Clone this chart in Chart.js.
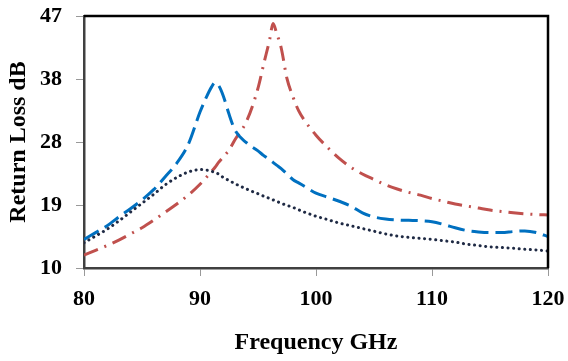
<!DOCTYPE html>
<html>
<head>
<meta charset="utf-8">
<script src="https://cdn.jsdelivr.net/npm/chart.js@4.4.0/dist/chart.umd.min.js"></script>
<style>
  body { margin: 0; background: #fff; }
</style>
</head>
<body>
<canvas id="myChart" width="568" height="361"></canvas>
<script>
// frequency points (GHz), shared by all three curves
const freq = [80, 81, 82, 83, 84, 85, 86, 87, 88, 89, 90, 90.5, 91, 91.3, 91.6, 92, 92.5, 93, 94, 95,
  95.5, 96, 96.3, 96.6, 97, 97.5, 98, 98.5, 99, 100, 101, 102, 103, 104, 105, 106, 107, 108, 109, 110,
  111, 112, 113, 114, 115, 116, 117, 118, 119, 120];

// dotted dark curve
const dotted = [13.7, 14.7, 15.7, 16.9, 18.2, 19.5, 20.8, 22.2, 23.3, 24.1, 24.45, 24.4, 24.2, 24.0, 23.8, 23.3, 22.85, 22.4, 21.6, 20.9,
  20.55, 20.2, 20.0, 19.8, 19.5, 19.2, 18.9, 18.55, 18.2, 17.6, 17.1, 16.6, 16.2, 15.8, 15.4, 15.0, 14.7, 14.5, 14.35, 14.2,
  14.0, 13.8, 13.5, 13.3, 13.1, 13.0, 12.9, 12.75, 12.65, 12.5];

// blue dashed curve
const dashed = [14.2, 15.2, 16.2, 17.5, 18.7, 20.0, 21.5, 23.4, 25.4, 28.2, 32.9, 34.9, 36.6, 37.2, 36.8, 35.3, 32.6, 30.3, 28.4, 27.2,
  26.5, 25.9, 25.5, 25.1, 24.6, 23.8, 23.0, 22.5, 22.0, 21.0, 20.4, 19.8, 19.1, 18.1, 17.5, 17.2, 17.05, 17.0, 16.95, 16.8,
  16.4, 15.9, 15.5, 15.3, 15.2, 15.2, 15.35, 15.45, 15.2, 14.6];

// red dash-dot curve
const dashDot = [11.9, 12.6, 13.3, 14.1, 15.0, 15.9, 17.0, 18.2, 19.4, 20.7, 22.3, 23.2, 24.2, 24.8, 25.5, 26.3, 27.3, 28.8, 31.5, 36.4,
  40.0, 43.5, 45.9, 44.5, 42.3, 37.8, 35.2, 33.1, 31.7, 29.5, 27.7, 26.1, 24.8, 23.8, 23.0, 22.2, 21.6, 21.1, 20.7, 20.2,
  19.8, 19.4, 19.1, 18.8, 18.5, 18.3, 18.1, 17.95, 17.85, 17.8];

const yTickLabels = ['10', '19', '28', '38', '47'];

function pts(vals) {
  return freq.map((f, i) => ({ x: f, y: vals[i] }));
}

const font = { family: "'Liberation Serif', 'Times New Roman', serif", size: 22, weight: 'bold' };
const titleFont = { family: "'Liberation Serif', 'Times New Roman', serif", size: 24, weight: 'bold' };

// top and right edge of the frame
const frame = {
  id: 'frame',
  afterDraw(chart) {
    const { ctx, chartArea: a } = chart;
    ctx.save();
    ctx.strokeStyle = '#000';
    ctx.lineWidth = 2.5;
    ctx.beginPath();
    ctx.moveTo(a.left, a.top);
    ctx.lineTo(a.right, a.top);
    ctx.lineTo(a.right, a.bottom);
    ctx.stroke();
    ctx.restore();
  }
};

new Chart(document.getElementById('myChart'), {
  type: 'line',
  data: {
    datasets: [
      {
        data: pts(dotted),
        borderColor: '#1f2a44',
        borderWidth: 3,
        borderDash: [0.1, 5.5],
        borderCapStyle: 'round',
        pointRadius: 0,
        cubicInterpolationMode: 'monotone'
      },
      {
        data: pts(dashed),
        borderColor: '#0070c0',
        borderWidth: 3,
        borderDash: [17, 7],
        pointRadius: 0,
        cubicInterpolationMode: 'monotone'
      },
      {
        data: pts(dashDot),
        borderColor: '#c0504d',
        borderWidth: 3,
        borderDash: [15, 7, 2, 7],
        pointRadius: 0,
        cubicInterpolationMode: 'monotone'
      }
    ]
  },
  options: {
    responsive: false,
    animation: false,
    devicePixelRatio: 1,
    layout: { padding: { top: 16, right: 20, left: 0, bottom: 0 } },
    plugins: { legend: { display: false }, tooltip: { enabled: false } },
    scales: {
      x: {
        type: 'linear',
        min: 80,
        max: 120,
        afterFit(scale) {
          scale.height = 93;
          scale.paddingLeft = 0;
          scale.paddingRight = 0;
        },
        border: { color: '#404040', width: 2.5 },
        grid: { drawOnChartArea: false, drawTicks: true, tickLength: 8, color: '#999' },
        ticks: { stepSize: 10, color: '#000', font: font, padding: 10, maxRotation: 0 },
        title: { display: true, text: 'Frequency GHz', color: '#000', font: titleFont, padding: { top: 0, bottom: 4 } }
      },
      y: {
        min: 10,
        max: 47,
        afterFit(scale) {
          scale.width = 84;
          scale.paddingTop = 0;
          scale.paddingBottom = 0;
        },
        border: { color: '#404040', width: 2.5 },
        grid: { drawOnChartArea: false, drawTicks: true, tickLength: 8, color: '#999' },
        ticks: {
          stepSize: 9.25,
          color: '#000',
          font: font,
          padding: 14,
          callback: (v, i) => yTickLabels[i]
        },
        title: { display: true, text: 'Return Loss dB', color: '#000', font: titleFont, padding: { top: 4, bottom: 0 } }
      }
    }
  },
  plugins: [frame]
});
</script>
</body>
</html>
